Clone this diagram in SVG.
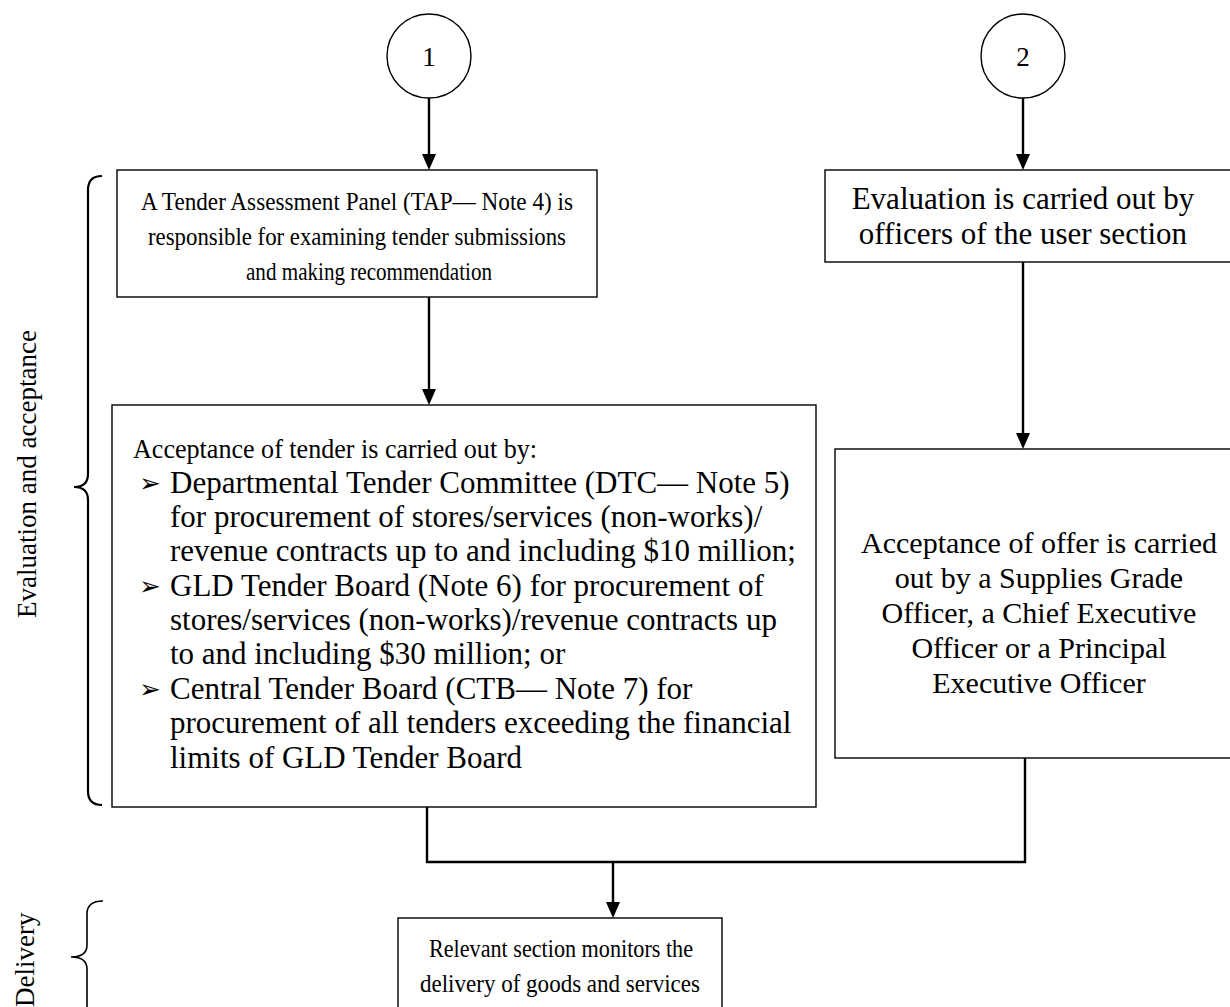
<svg xmlns="http://www.w3.org/2000/svg" width="1230" height="1007" viewBox="0 0 1230 1007">
<style>
text{font-family:"Liberation Serif","Times New Roman",serif;font-size:27px;fill:#000}
.c{text-anchor:middle}
.s26{font-size:26px}
.s28{font-size:28px}
.s30{font-size:30px}
.s31{font-size:31px}
.box{fill:#fff;stroke:#000;stroke-width:1.4}
.conn{fill:none;stroke:#000;stroke-width:2.4}
.head{fill:#000;stroke:none}
.brace{fill:none;stroke:#000;stroke-width:2.2}
.bul{font-family:"DejaVu Sans",sans-serif;font-size:26px}
</style>
<rect width="1230" height="1007" fill="#fff"/>

<g id="connectors">
<line class="conn" x1="429" y1="98" x2="429" y2="156"/>
<polygon class="head" points="422,154 436,154 429,170"/>
<line class="conn" x1="429" y1="297" x2="429" y2="391"/>
<polygon class="head" points="422,389 436,389 429,405"/>
<line class="conn" x1="1023" y1="98" x2="1023" y2="156"/>
<polygon class="head" points="1016,154 1030,154 1023,170"/>
<line class="conn" x1="1023" y1="262" x2="1023" y2="435"/>
<polygon class="head" points="1016,433 1030,433 1023,449"/>
<polyline class="conn" points="427,807 427,862 1025,862 1025,758"/>
<line class="conn" x1="613" y1="862" x2="613" y2="904"/>
<polygon class="head" points="606,902 620,902 613,918"/>
</g>

<g id="c1">
<circle cx="429" cy="56" r="42" fill="#fff" stroke="#000" stroke-width="1.4"/>
<text class="c" x="429" y="66">1</text>
</g>
<g id="c2">
<circle cx="1023" cy="56" r="42" fill="#fff" stroke="#000" stroke-width="1.4"/>
<text class="c" x="1023" y="66">2</text>
</g>

<g id="tap">
<rect class="box" x="117" y="170" width="480" height="127"/>
<text class="c s26" x="357" y="210" textLength="432" lengthAdjust="spacingAndGlyphs">A Tender Assessment Panel (TAP— Note 4) is</text>
<text class="c s26" x="357" y="245" textLength="418" lengthAdjust="spacingAndGlyphs">responsible for examining tender submissions</text>
<text class="c s26" x="369" y="280" textLength="246" lengthAdjust="spacingAndGlyphs">and making recommendation</text>
</g>

<g id="accept-tender">
<rect class="box" x="112" y="405" width="704" height="402"/>
<text class="s28" x="133" y="458" textLength="404" lengthAdjust="spacingAndGlyphs">Acceptance of tender is carried out by:</text>
<text class="bul" x="139" y="492">➢</text>
<text class="s31" x="170" y="493">Departmental Tender Committee (DTC— Note 5)</text>
<text class="s31" x="170" y="527">for procurement of stores/services (non-works)/</text>
<text class="s31" x="170" y="561">revenue contracts up to and including $10 million;</text>
<text class="bul" x="139" y="595">➢</text>
<text class="s31" x="170" y="596">GLD Tender Board (Note 6) for procurement of</text>
<text class="s31" x="170" y="630">stores/services (non-works)/revenue contracts up</text>
<text class="s31" x="170" y="664">to and including $30 million; or</text>
<text class="bul" x="139" y="698">➢</text>
<text class="s31" x="170" y="699">Central Tender Board (CTB— Note 7) for</text>
<text class="s31" x="170" y="733">procurement of all tenders exceeding the financial</text>
<text class="s31" x="170" y="768">limits of GLD Tender Board</text>
</g>

<g id="eval-user">
<rect class="box" x="825" y="170" width="410" height="92"/>
<text class="c s31" x="1023" y="209">Evaluation is carried out by</text>
<text class="c s31" x="1023" y="244">officers of the user section</text>
</g>

<g id="accept-offer">
<rect class="box" x="835" y="449" width="410" height="309"/>
<text class="c s30" x="1039" y="553">Acceptance of offer is carried</text>
<text class="c s30" x="1039" y="588">out by a Supplies Grade</text>
<text class="c s30" x="1039" y="623">Officer, a Chief Executive</text>
<text class="c s30" x="1039" y="658">Officer or a Principal</text>
<text class="c s30" x="1039" y="693">Executive Officer</text>
</g>

<g id="delivery-box">
<rect class="box" x="398" y="918" width="324" height="100"/>
<text class="c s26" x="561" y="957" textLength="264" lengthAdjust="spacingAndGlyphs">Relevant section monitors the</text>
<text class="c s26" x="560" y="992" textLength="280" lengthAdjust="spacingAndGlyphs">delivery of goods and services</text>
</g>

<g id="label-eval">
<path class="brace" d="M102,176 Q88,176 88,190 L88,474 Q88,487 74,487 Q88,487 88,500 L88,791 Q88,805 102,805"/>
<text class="c" transform="translate(36,474) rotate(-90)">Evaluation and acceptance</text>
</g>
<g id="label-delivery">
<path class="brace" style="stroke-width:1.6" d="M103,901 Q87,901 87,914 L87,945 Q87,957 71,957 Q87,957 87,969 L87,1012"/>
<text transform="translate(34,1007) rotate(-90)">Delivery</text>
</g>
</svg>
